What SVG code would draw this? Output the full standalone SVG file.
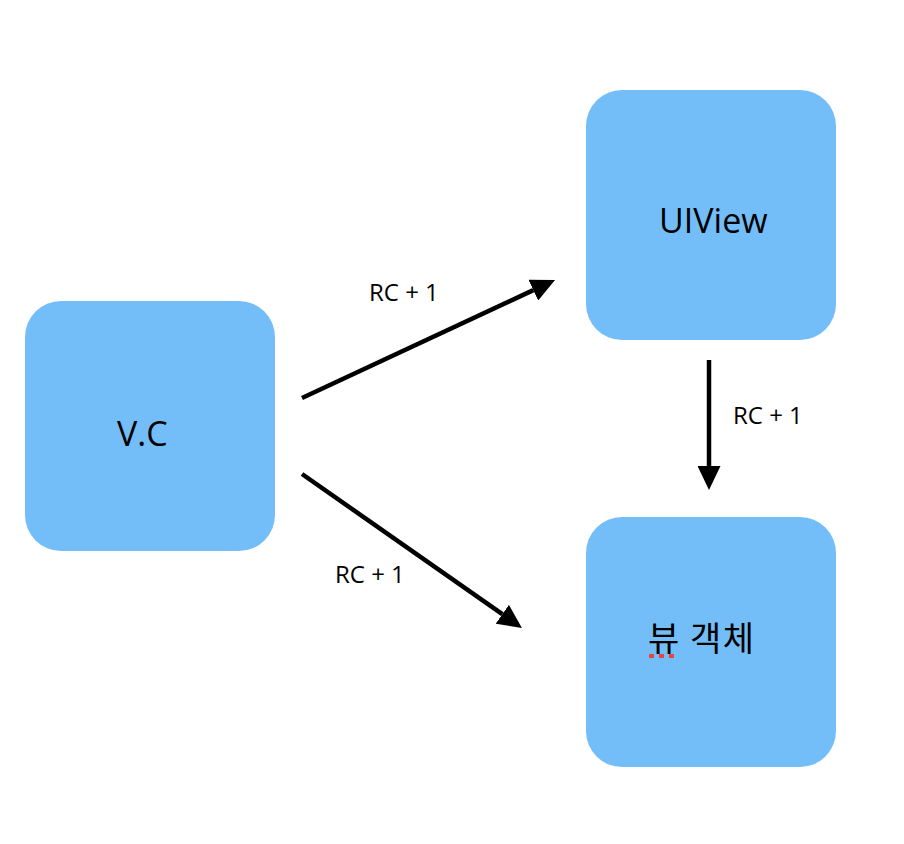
<svg xmlns="http://www.w3.org/2000/svg" width="904" height="844" viewBox="0 0 904 844">
<style>
.box{fill:#73BEF8;}
.t{font-family:"Open Sans","Noto Sans CJK KR",sans-serif;fill:#000;}
.big{font-size:34px;}
.lbl{font-size:24px;}
.edge{stroke:#000;stroke-width:4.5;fill:none;}
</style>
<defs>
<marker id="ah" markerUnits="userSpaceOnUse" markerWidth="24" markerHeight="23" refX="0" refY="11.5" orient="auto" viewBox="0 0 24 23">
<path d="M0,0 L24,11.5 L0,23 z" fill="#000"/>
</marker>
</defs>
<rect width="904" height="844" fill="#fff"/>
<g id="node-vc">
<rect class="box" x="25" y="301" width="250" height="250" rx="36"/>
<text class="t big" x="117" y="446">V.C</text>
</g>
<g id="node-uiview">
<rect class="box" x="586" y="90" width="250" height="250" rx="36"/>
<text class="t big" x="659" y="233">UIView</text>
</g>
<g id="node-viewobj">
<rect class="box" x="586" y="517" width="250" height="250" rx="36"/>
<text class="t" x="648" y="651" style="font-family:'Noto Sans CJK KR',sans-serif;font-size:34px;letter-spacing:1.5px">뷰 객체</text>
<g fill="#E5473F">
<rect x="649" y="654" width="5" height="4"/>
<rect x="659" y="654" width="5" height="4"/>
<rect x="669" y="654" width="5" height="4"/>
</g>
</g>
<g id="connectors">
<line class="edge" x1="302" y1="398" x2="533.3" y2="290.1" marker-end="url(#ah)"/>
<line class="edge" x1="302" y1="474" x2="502.3" y2="614.2" marker-end="url(#ah)"/>
<line class="edge" x1="709" y1="360" x2="709" y2="466" marker-end="url(#ah)"/>
<text class="t lbl" x="369" y="301">RC + 1</text>
<text class="t lbl" x="335" y="583">RC + 1</text>
<text class="t lbl" x="733" y="424">RC + 1</text>
</g>
</svg>
